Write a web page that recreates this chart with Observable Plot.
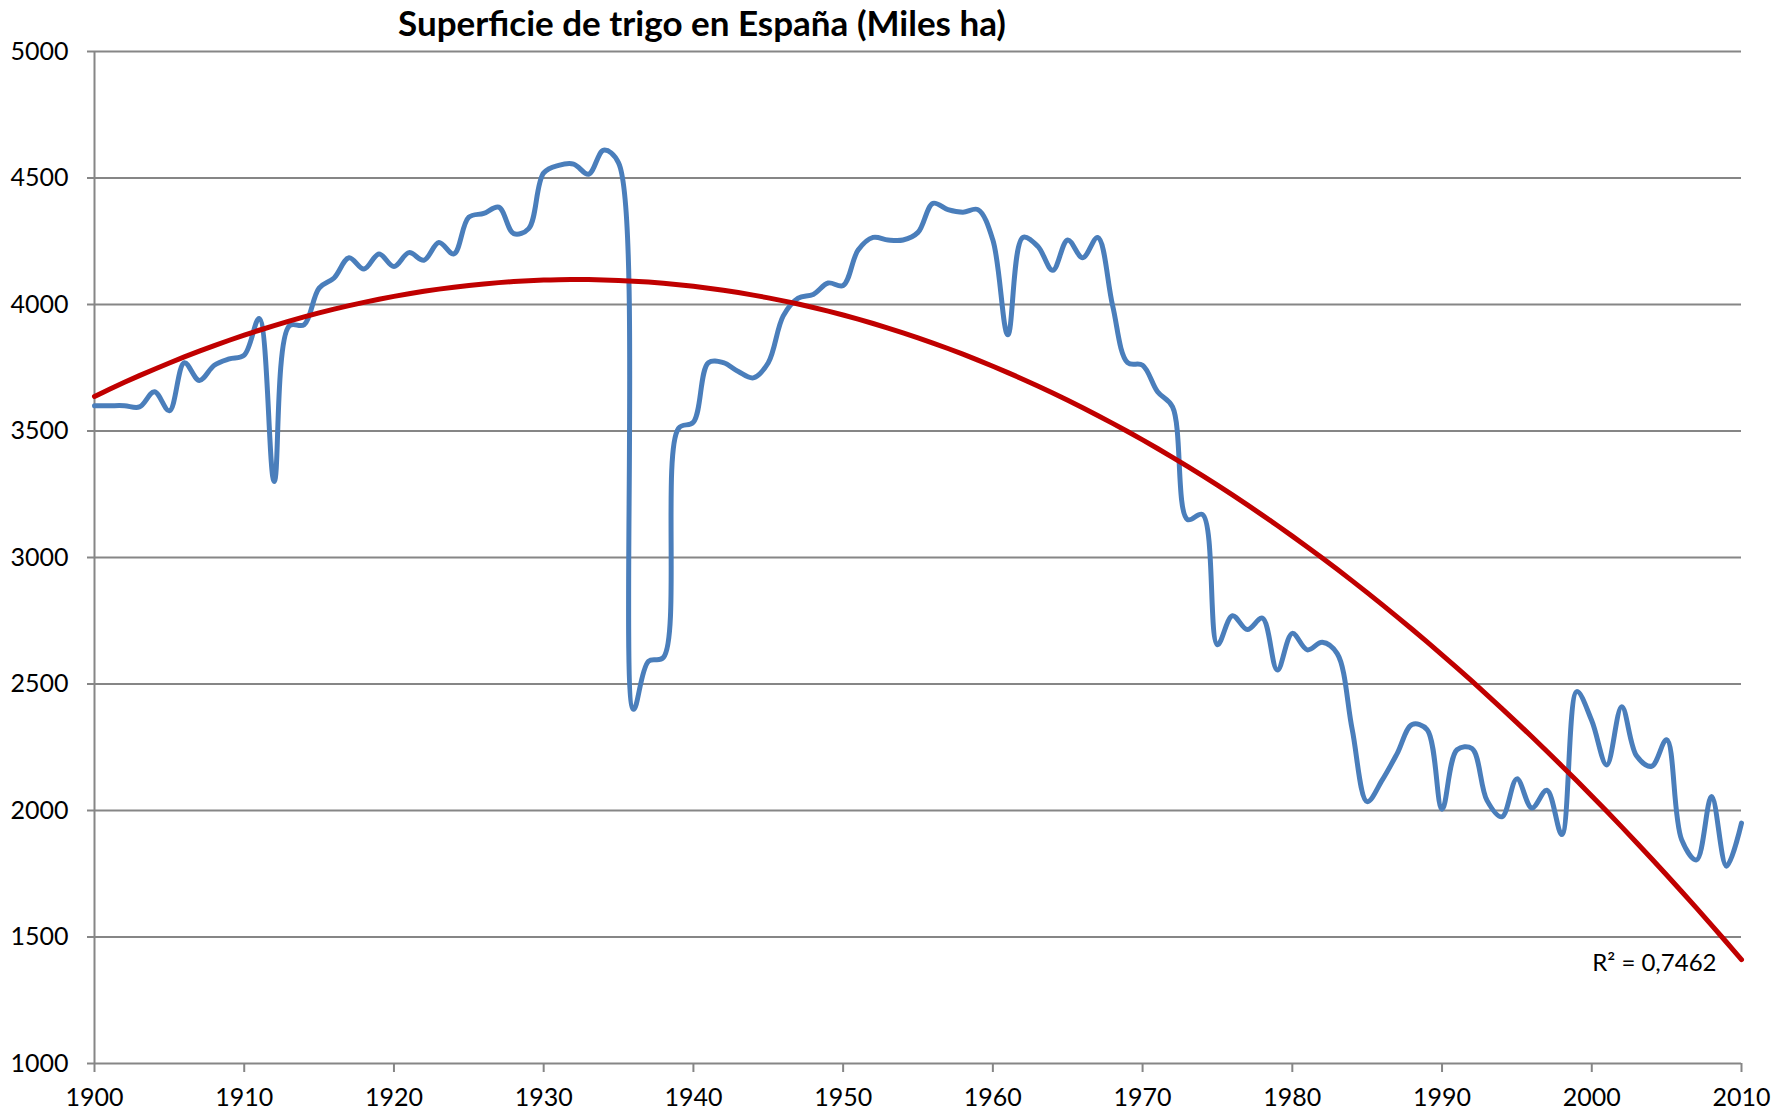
<!DOCTYPE html>
<html>
<head>
<meta charset="utf-8">
<script src="https://cdn.jsdelivr.net/npm/d3@7"></script>
<script src="https://cdn.jsdelivr.net/npm/@observablehq/plot@0.6"></script>
<style>
  body { margin: 0; background: #fff; }
  #wrap { position: relative; width: 1789px; height: 1116px; background: #fff; }
  #title { position: absolute; left: 0; top: 1px; width: 1404px; text-align: center;
           font-family: Lato, "Open Sans", sans-serif; font-weight: bold; font-size: 35px; color: #000; }
  #chart { position: absolute; left: 0; top: 0; }
</style>
</head>
<body>
<div id="wrap">
  <div id="chart"></div>
  <div id="title">Superficie de trigo en España (Miles ha)</div>
</div>
<script>
const years = [
  1900,1901,1902,1903,1904,1905,1906,1907,1908,1909,
  1910,1911,1912,1913,1914,1915,1916,1917,1918,1919,
  1920,1921,1922,1923,1924,1925,1926,1927,1928,1929,
  1930,1931,1932,1933,1934,1935,1936,1937,1938,1939,
  1940,1941,1942,1943,1944,1945,1946,1947,1948,1949,
  1950,1951,1952,1953,1954,1955,1956,1957,1958,1959,
  1960,1961,1962,1963,1964,1965,1966,1967,1968,1969,
  1970,1971,1972,1973,1974,1975,1976,1977,1978,1979,
  1980,1981,1982,1983,1984,1985,1986,1987,1988,1989,
  1990,1991,1992,1993,1994,1995,1996,1997,1998,1999,
  2000,2001,2002,2003,2004,2005,2006,2007,2008,2009,
  2010
];
const superficie = [
  3600,3600,3600,3595,3655,3580,3770,3700,3760,3785,
  3800,3945,3300,3915,3920,4065,4105,4185,4140,4200,
  4150,4205,4175,4245,4200,4345,4360,4385,4280,4300,
  4520,4550,4555,4515,4610,4560,2400,2590,2605,3510,
  3535,3770,3770,3735,3710,3770,3955,4025,4040,4085,
  4075,4215,4265,4255,4255,4285,4400,4375,4365,4375,
  4255,3880,4265,4230,4135,4255,4185,4265,3995,3770,
  3760,3655,3595,3150,3170,2655,2770,2715,2760,2555,
  2700,2635,2665,2620,2320,2035,2120,2225,2340,2320,
  2005,2240,2245,2040,1975,2125,2010,2080,1905,2470,
  2355,2180,2410,2215,2175,2280,1885,1805,2055,1780,
  1950
];
const xTicks = [1900,1910,1920,1930,1940,1950,1960,1970,1980,1990,2000,2010];
const yTicks = [1000,1500,2000,2500,3000,3500,4000,4500,5000];
const r2Label = "R² = 0,7462";

const data = years.map((year, i) => ({year, value: superficie[i]}));

// Quadratic (order-2 polynomial) least-squares trend, as in the spreadsheet
const c = 1955;
let S = [0,0,0,0,0], T = [0,0,0];
for (const d of data) {
  const t = d.year - c;
  for (let k = 0; k < 5; k++) S[k] += Math.pow(t, k);
  for (let k = 0; k < 3; k++) T[k] += d.value * Math.pow(t, k);
}
function solve3(A, b) {
  const M = A.map((r, i) => [...r, b[i]]);
  for (let i = 0; i < 3; i++) {
    let p = i; for (let r = i + 1; r < 3; r++) if (Math.abs(M[r][i]) > Math.abs(M[p][i])) p = r;
    [M[i], M[p]] = [M[p], M[i]];
    for (let r = 0; r < 3; r++) if (r !== i) {
      const f = M[r][i] / M[i][i];
      for (let k = i; k < 4; k++) M[r][k] -= f * M[i][k];
    }
  }
  return M.map((r, i) => r[3] / r[i]);
}
const [a0, a1, a2] = solve3([[S[0],S[1],S[2]],[S[1],S[2],S[3]],[S[2],S[3],S[4]]], T);
const fit = y => a0 + a1 * (y - c) + a2 * (y - c) * (y - c);
const trend = years.map(year => ({year, value: fit(year)}));
const labelData = [{year: years[years.length - 1], value: fit(years[years.length - 1]), text: r2Label}];

const grey = "#868686";
const chart = Plot.plot({
  width: 1789,
  height: 1116,
  marginLeft: 94,
  marginRight: 48,
  marginTop: 51,
  marginBottom: 53,
  style: {fontFamily: "Lato, 'Open Sans', sans-serif", fontSize: "25px", background: "white", color: "black", overflow: "visible"},
  x: {domain: [1900, 2010], label: null},
  y: {domain: [1000, 5000], label: null},
  marks: [
    Plot.gridY(yTicks, {stroke: grey, strokeOpacity: 1, strokeWidth: 2}),
    Plot.ruleX([1900], {stroke: grey, strokeWidth: 2}),
    Plot.axisY(yTicks, {tickSize: 7, tickPadding: 19, tickFormat: "d", stroke: grey, strokeWidth: 2, fill: "black", fontSize: 25, label: null}),
    Plot.axisX(xTicks, {tickSize: 9, tickPadding: 16, tickFormat: "d", stroke: grey, strokeWidth: 2, fill: "black", fontSize: 25, label: null}),
    Plot.line(data, {x: "year", y: "value", curve: "catmull-rom", stroke: "#4A7EBB", strokeWidth: 5, strokeLinejoin: "round"}),
    Plot.line(trend, {x: "year", y: "value", curve: "catmull-rom", stroke: "#C00000", strokeWidth: 5}),
    Plot.text(labelData, {x: "year", y: "value", text: "text", textAnchor: "end", lineAnchor: "bottom", dx: -25, dy: 11, fontSize: 24, fill: "black"})
  ]
});
document.getElementById("chart").appendChild(chart);
</script>
</body>
</html>
